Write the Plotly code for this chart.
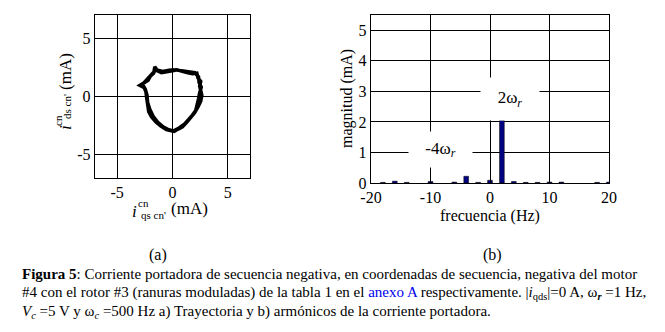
import plotly.graph_objects as go

W, H = 665, 332

# ---------------- data ----------------
# (a) trajectory of negative-sequence carrier current (mA)
traj_q = [0.0, -0.5, -1.0, -1.35, -1.6, -1.7, -2.0, -2.2, -2.55, -2.95, -2.55, -2.4, -2.35, -2.3,
          -2.2, -2.15, -1.9, -1.5, -1.05, -0.55, -0.1, 0.15, 0.5, 0.9, 1.3, 1.7, 2.0, 2.3, 2.55,
          2.65, 2.55, 2.45, 2.55, 2.3, 2.2, 1.8, 1.3, 0.8, 0.4, 0.0,
          0.2, -0.3, -0.9, -1.5, -1.9, -2.3, -2.7, -2.45, -2.3, -2.25, -2.05, -1.75, -1.35, -0.85,
          -0.35, 0.1, 0.6, 1.1, 1.5, 1.8, 2.1, 2.25, 2.35, 2.45, 2.6, 2.4, 2.35, 2.0, 1.6, 1.0,
          0.5, 0.2]
traj_d = [2.2, 2.15, 2.05, 2.2, 2.55, 2.0, 1.75, 1.4, 1.2, 0.95, 0.75, 0.4, 0.0, -0.4,
          -0.8, -1.3, -1.75, -2.2, -2.55, -2.85, -2.95, -3.0, -2.8, -2.6, -2.2, -1.75, -1.4, -0.9, -0.4,
          0.1, 0.5, 0.9, 1.3, 1.6, 2.0, 1.95, 2.05, 2.2, 2.3, 2.2,
          2.3, 2.25, 2.15, 2.3, 1.9, 1.5, 1.05, 0.6, 0.1, -0.5, -1.1, -1.7, -2.2, -2.6,
          -2.85, -2.95, -2.7, -2.35, -1.95, -1.6, -1.2, -0.7, -0.2, 0.3, 0.8, 1.2, 1.7, 2.05, 2.1, 2.15,
          2.25, 2.3]

# (b) harmonic spectrum
freq_hz = [-18, -16, -14, -10, -6, -4, -2, 0, 2, 4, 6, 8, 10, 12, 18, 20]
mag_ma = [0.02, 0.06, 0.02, 0.05, 0.03, 0.22, 0.02, 0.09, 2.05, 0.05, 0.02, 0.02, 0.03, 0.03, 0.02, 0.03]

ticks_a = [-5, 0, 5]
ticktext_a = ["-5", "0", "5"]
ticks_bx = [-20, -10, 0, 10, 20]
ticktext_bx = ["-20", "-10", "0", "10", "20"]
ticks_by = [0, 1, 2, 3, 4, 5]

# ---------------- figure ----------------
def px(x, y):
    return x / W, 1 - y / H

SERIF = "Liberation Serif"
fig = go.Figure()

fig.add_trace(go.Scatter(x=traj_q, y=traj_d, mode="lines",
                         line=dict(color="black", width=3.5), xaxis="x", yaxis="y",
                         showlegend=False, hoverinfo="skip"))
fig.add_trace(go.Bar(x=freq_hz, y=mag_ma, width=0.8, xaxis="x2", yaxis="y2",
                     marker=dict(color="#000080", line=dict(color="black", width=0.5)),
                     showlegend=False, hoverinfo="skip"))

axis_common = dict(showline=True, linecolor="black", linewidth=1.2, mirror="ticks",
                   ticks="inside", ticklen=4, tickcolor="black", automargin=False,
                   showgrid=True, gridcolor="black", gridwidth=1, zeroline=False,
                   tickfont=dict(family=SERIF, size=16, color="black"), fixedrange=True)

l_x0, l_y0 = px(95, 178)
l_x1, l_y1 = px(250, 15)
r_x0, r_y0 = px(371, 183)
r_x1, r_y1 = px(609, 15)

fig.update_layout(
    template="none",
    width=W, height=H, autosize=False,
    margin=dict(l=0, r=0, t=0, b=0, pad=0),
    paper_bgcolor="white", plot_bgcolor="white",
    xaxis=dict(domain=[l_x0, l_x1], range=[-7, 7], tickvals=ticks_a, ticktext=ticktext_a,
               anchor="y", **axis_common),
    yaxis=dict(domain=[l_y0, l_y1], range=[-7, 7], tickvals=ticks_a, ticktext=ticktext_a,
               anchor="x", **axis_common),
    xaxis2=dict(domain=[r_x0, r_x1], range=[-20, 20], tickvals=ticks_bx, ticktext=ticktext_bx,
                anchor="y2", **axis_common),
    yaxis2=dict(domain=[r_y0, r_y1], range=[0, 5.5], tickvals=ticks_by,
                anchor="x2", **axis_common),
    bargap=0,
)

ann = []

def text_px(x, y, text, size=15, angle=0, xanchor="center", color="black"):
    xx, yy = px(x, y)
    ann.append(dict(x=xx, y=yy, xref="paper", yref="paper", text=text, showarrow=False,
                    xanchor=xanchor, yanchor="middle", textangle=angle,
                    font=dict(family=SERIF, size=size, color=color)))

# (a) x-axis title: i^cn_{qs cn'} (mA)
text_px(134, 211, "<i>i</i>", 17)
text_px(143, 203, "cn", 11)
text_px(153, 215, "qs cn'", 11)
text_px(189, 209, "(mA)", 17)
# (a) y-axis title: i^cn_{ds cn'} (mA)
text_px(65, 128, "<i>i</i>", 17, angle=-90)
text_px(58, 121, "cn", 11, angle=-90)
text_px(67, 107, "ds cn'", 11, angle=-90)
text_px(65, 72, "(mA)", 17, angle=-90)

# (b) titles
text_px(347, 99, "magnitud (mA)", 16, angle=-90)
text_px(490, 216, "frecuencia (Hz)", 16)

# harmonic labels with white background (data coordinates of panel b)
ann.append(dict(x=3.3, y=2.75, xref="x2", yref="y2", text="2ω<sub><i>r</i></sub>",
                showarrow=False, bgcolor="white", width=56, height=40,
                font=dict(family=SERIF, size=17, color="black")))
ann.append(dict(x=-8.3, y=1.1, xref="x2", yref="y2", text="-4ω<sub><i>r</i></sub>",
                showarrow=False, bgcolor="white", width=61, height=33,
                font=dict(family=SERIF, size=17, color="black")))

# subfigure labels
text_px(158, 255, "(a)", 16)
text_px(492, 255, "(b)", 16)

# caption
text_px(20, 274, "<b>Figura 5</b>: Corriente portadora de secuencia negativa, en coordenadas de "
                 "secuencia, negativa del motor", 15, xanchor="left")
text_px(20, 293, "#4 con el rotor #3 (ranuras moduladas) de la tabla 1 en el "
                 "<span style='color:#0000ee'>anexo A</span> respectivamente. "
                 "|<i>i</i><sub>qds</sub>|=0 A, ω<sub><b><i>r</i></b></sub> =1 Hz,", 15, xanchor="left")
text_px(20, 312, "<i>V<sub>c</sub></i> =5 V y ω<sub><i>c</i></sub> =500 Hz a) Trayectoria y b) "
                 "armónicos de la corriente portadora.", 15, xanchor="left")

fig.update_layout(annotations=ann)
fig.write_html("out.html", config={"displayModeBar": False, "staticPlot": True},
               post_script="document.body.style.margin='0px';")
